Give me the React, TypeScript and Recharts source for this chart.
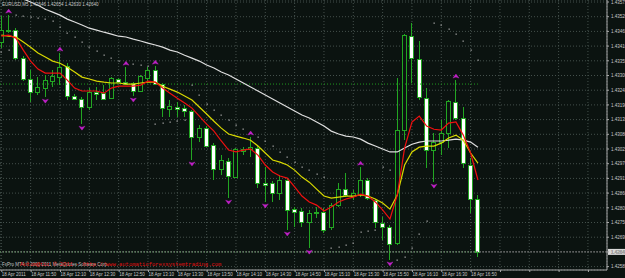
import React from 'react';
import { ComposedChart, Bar, Line, Scatter, XAxis, YAxis, CartesianGrid, ReferenceLine } from 'recharts';

const BG = '#0b1310';
const GREEN = '#22a622';
const GRID = '#44504c';
const AXIS = '#a8a8a8';
const TXT = '#c8c8c8';
const MAGENTA = '#c020c8';
const FONT = 'Liberation Sans, Arial, sans-serif';

// ---- data ----
const opens = [1.43425,1.43470,1.43470,1.43365,1.43287,1.43238,1.43253,1.43279,1.43294,1.43335,1.43223,1.43212,1.43182,1.43238,1.43234,1.43215,1.43287,1.43275,1.43272,1.43242,1.43290,1.43320,1.43268,1.43174,1.43182,1.43178,1.43167,1.43070,1.43103,1.43040,1.42950,1.42980,1.42920,1.43017,1.43025,1.43029,1.42898,1.42898,1.42860,1.42909,1.42800,1.42793,1.42752,1.42786,1.42789,1.42733,1.42815,1.42875,1.42849,1.42856,1.42909,1.42834,1.42748,1.42733,1.42673,1.43096,1.43447,1.43361,1.43215,1.43021,1.43051,1.43085,1.43200,1.43141,1.42965,1.42838];
const highs = [1.43522,1.43526,1.43477,1.43373,1.43320,1.43294,1.43302,1.43320,1.43384,1.43346,1.43230,1.43219,1.43253,1.43257,1.43264,1.43294,1.43290,1.43331,1.43275,1.43302,1.43331,1.43335,1.43272,1.43208,1.43200,1.43189,1.43171,1.43115,1.43111,1.43047,1.43002,1.42991,1.43029,1.43032,1.43070,1.43036,1.42957,1.42905,1.42928,1.42916,1.42808,1.42804,1.42797,1.42808,1.42804,1.42823,1.42898,1.42935,1.42871,1.42957,1.42916,1.42838,1.42770,1.42741,1.43290,1.43455,1.43496,1.43429,1.43253,1.43085,1.43133,1.43208,1.43283,1.43182,1.42991,1.42853];
const lows = [1.43402,1.43459,1.43358,1.43279,1.43200,1.43227,1.43219,1.43257,1.43264,1.43208,1.43208,1.43118,1.43171,1.43208,1.43208,1.43212,1.43272,1.43264,1.43223,1.43238,1.43275,1.43264,1.43144,1.43144,1.43144,1.43144,1.42984,1.43051,1.43032,1.42909,1.42928,1.42841,1.42916,1.43002,1.42995,1.42879,1.42827,1.42827,1.42834,1.42722,1.42733,1.42733,1.42654,1.42767,1.42711,1.42722,1.42808,1.42845,1.42834,1.42845,1.42834,1.42729,1.42684,1.42610,1.42666,1.43058,1.43272,1.43208,1.42954,1.42901,1.43002,1.43029,1.43133,1.42954,1.42786,1.42621];
const closes = [1.43470,1.43466,1.43365,1.43287,1.43238,1.43257,1.43283,1.43298,1.43331,1.43223,1.43212,1.43182,1.43238,1.43230,1.43212,1.43290,1.43275,1.43268,1.43242,1.43298,1.43320,1.43268,1.43178,1.43186,1.43174,1.43167,1.43070,1.43103,1.43036,1.42950,1.42984,1.42924,1.43025,1.43025,1.43032,1.42898,1.42890,1.42860,1.42909,1.42797,1.42789,1.42752,1.42786,1.42789,1.42722,1.42815,1.42875,1.42853,1.42860,1.42909,1.42841,1.42752,1.42733,1.42669,1.43096,1.43451,1.43365,1.43219,1.43021,1.43051,1.43085,1.43204,1.43141,1.42972,1.42838,1.42640];
const maRed = [1.43447,1.43451,1.43440,1.43395,1.43354,1.43324,1.43309,1.43309,1.43309,1.43283,1.43253,1.43242,1.43242,1.43242,1.43234,1.43253,1.43260,1.43260,1.43260,1.43264,1.43279,1.43275,1.43253,1.43234,1.43215,1.43197,1.43178,1.43148,1.43118,1.43092,1.43055,1.43021,1.43014,1.43021,1.43025,1.43002,1.42965,1.42939,1.42924,1.42916,1.42883,1.42849,1.42827,1.42815,1.42793,1.42808,1.42827,1.42838,1.42845,1.42856,1.42849,1.42827,1.42797,1.42763,1.42853,1.43029,1.43126,1.43148,1.43111,1.43099,1.43096,1.43122,1.43126,1.43077,1.43010,1.42909];
const maYellow = [1.43451,1.43447,1.43444,1.43425,1.43406,1.43384,1.43369,1.43354,1.43346,1.43331,1.43313,1.43294,1.43287,1.43279,1.43275,1.43272,1.43272,1.43268,1.43268,1.43272,1.43275,1.43275,1.43260,1.43249,1.43238,1.43223,1.43208,1.43182,1.43156,1.43129,1.43103,1.43081,1.43073,1.43066,1.43058,1.43036,1.43010,1.42984,1.42976,1.42965,1.42946,1.42920,1.42901,1.42875,1.42849,1.42841,1.42845,1.42849,1.42849,1.42853,1.42849,1.42838,1.42823,1.42800,1.42853,1.42965,1.43014,1.43032,1.43036,1.43036,1.43047,1.43066,1.43077,1.43058,1.43010,1.42972];
const maWhite = [1.43619,1.43608,1.43597,1.43586,1.43575,1.43563,1.43548,1.43537,1.43526,1.43511,1.43500,1.43489,1.43477,1.43470,1.43462,1.43455,1.43447,1.43444,1.43436,1.43429,1.43421,1.43414,1.43406,1.43395,1.43388,1.43376,1.43365,1.43354,1.43339,1.43328,1.43313,1.43302,1.43287,1.43272,1.43257,1.43242,1.43227,1.43212,1.43197,1.43182,1.43167,1.43152,1.43141,1.43126,1.43111,1.43092,1.43081,1.43073,1.43070,1.43062,1.43047,1.43036,1.43025,1.43014,1.43014,1.43029,1.43043,1.43051,1.43055,1.43055,1.43055,1.43058,1.43062,1.43058,1.43051,1.43032];
const sarValues = [1.43388,1.43395,1.43526,1.43522,1.43518,1.43515,1.43511,1.43503,1.43481,1.43459,1.43444,1.43425,1.43406,1.43391,1.43376,1.43365,1.43354,1.43346,1.43343,1.43339,1.43335,1.43118,1.43122,1.43126,1.43129,1.43133,1.43264,1.43227,1.43193,1.43171,1.43152,1.43133,1.43115,1.43099,1.43085,1.43070,1.43055,1.43036,1.43014,1.42995,1.42976,1.42957,1.42946,1.42931,1.42920,1.42654,1.42658,1.42666,1.42673,1.42714,1.42718,1.42722,1.42957,1.42946,1.42610,1.42621,1.42654,1.42707,1.42755,1.43496,1.43489,1.43474,1.43455,1.43429,1.43395,1.43358];
const fractalUpIdx = [1, 8, 17, 21, 34, 49, 62];
const fractalDownIdx = [6, 11, 18, 26, 31, 36, 39, 42, 53, 59];
const timeTicks = [0,4,8,12,16,20,24,28,32,36,40,44,48,52,56,60,64,68,72,76,80];
const timeLabels = ['18 Apr 2011','18 Apr 11:50','18 Apr 12:10','18 Apr 12:30','18 Apr 12:50','18 Apr 13:10','18 Apr 13:30','18 Apr 13:50','18 Apr 14:10','18 Apr 14:30','18 Apr 14:50','18 Apr 15:10','18 Apr 15:30','18 Apr 15:50','18 Apr 16:10','18 Apr 16:30','18 Apr 16:50'];
const priceTicks = [1.43575,1.43520,1.43465,1.43410,1.43355,1.43300,1.43245,1.43190,1.43135,1.43080,1.43025,1.42970,1.42915,1.42860,1.42805,1.42750,1.42695,1.42640,1.42585];
const greenLevels = [1.43268, 1.42640];
const bidPrice = 1.42640;
const titleText = 'EURUSD,M5  1.42646 1.42654 1.42630 1.42640';

const X_DOMAIN: [number, number] = [-0.18, 82.6];
const Y_DOMAIN: [number, number] = [1.425723, 1.435825];

const rows = opens.map((o, i) => ({
  i, open: o, high: highs[i], low: lows[i], close: closes[i],
  red: maRed[i], yellow: maYellow[i], white: maWhite[i], sar: sarValues[i],
}));
const fracUp = fractalUpIdx.map((i) => ({ i, v: highs[i] }));
const fracDown = fractalDownIdx.map((i) => ({ i, v: lows[i] }));

const Candle = (props: any) => {
  const { x, y, width, height, payload } = props;
  if (x == null || y == null || !payload) return null;
  const top = Math.min(y, y + height);
  const bot = Math.max(y, y + height);
  const { open, close, high, low } = payload;
  const span = high - low;
  const py = (p: number) => (span > 0 ? top + ((high - p) / span) * (bot - top) : top);
  const cx = x + width / 2;
  const L = Math.round(cx - 2.5);
  const wx = L + 2.5;
  const oy = py(open);
  const cy = py(close);
  const bTop = Math.round(Math.min(oy, cy));
  const bBot = Math.round(Math.max(oy, cy));
  const bull = close >= open;
  return (
    <g>
      <line x1={wx} x2={wx} y1={Math.round(top)} y2={Math.round(bot)} stroke={GREEN} strokeWidth={1} />
      <rect x={L + 0.5} y={bTop + 0.5} width={4} height={Math.max(bBot - bTop, 0)} fill={bull ? BG : '#ffffff'} stroke={GREEN} strokeWidth={1} />
    </g>
  );
};

const SarDot = (props: any) => {
  const { cx, cy } = props;
  if (cx == null || cy == null) return null;
  return <rect x={Math.round(cx) - 0.5} y={Math.round(cy) - 0.5} width={1.3} height={1.3} fill="#a0a0a0" />;
};

const UpArrow = (props: any) => {
  const { cx, cy } = props;
  if (cx == null || cy == null) return null;
  const t = cy - 6;
  return <path d={`M${cx},${t} L${cx + 3},${t + 4} L${cx},${t + 3} L${cx - 3},${t + 4} Z`} fill={MAGENTA} stroke={MAGENTA} strokeWidth={0.4} />;
};

const DownArrow = (props: any) => {
  const { cx, cy } = props;
  if (cx == null || cy == null) return null;
  const b = cy + 6;
  return <path d={`M${cx},${b} L${cx + 3},${b - 4} L${cx},${b - 3} L${cx - 3},${b - 4} Z`} fill={MAGENTA} stroke={MAGENTA} strokeWidth={0.4} />;
};

const XTick = (props: any) => {
  const { x, y, payload } = props;
  const idx = timeTicks.indexOf(payload.value);
  const lbl = idx >= 0 && idx < timeLabels.length ? timeLabels[idx] : '';
  return (
    <g>
      <line x1={x + 0.5} x2={x + 0.5} y1={y} y2={y + 2} stroke={AXIS} />
      {lbl ? (
        <text x={x + 0.5} y={y + 6.3} fontSize={4.5} fill={TXT} fontFamily={FONT} textAnchor="start">{lbl}</text>
      ) : null}
    </g>
  );
};

const YTick = (props: any) => {
  const { x, y, payload } = props;
  return (
    <g>
      <line x1={x} x2={x + 2} y1={y} y2={y} stroke={AXIS} />
      <text x={x + 4} y={y + 1.7} fontSize={4.5} fill={TXT} fontFamily={FONT} textAnchor="start">{Number(payload.value).toFixed(5)}</text>
    </g>
  );
};

const BidLabel = (props: any) => {
  const vb = props.viewBox || {};
  const x0 = (vb.x || 0) + (vb.width || 0);
  const y0 = vb.y || 0;
  return (
    <g>
      <rect x={x0 + 1} y={y0 - 3} width={22} height={6} fill="#d8d8d8" />
      <text x={x0 + 4} y={y0 + 1.7} fontSize={4.5} fill="#000" fontFamily={FONT}>{bidPrice.toFixed(5)}</text>
    </g>
  );
};

export default function App() {
  return (
    <div style={{ position: 'absolute', left: 0, top: 0, width: 625, height: 278, background: BG, overflow: 'hidden' }}>
      <ComposedChart width={625} height={278} data={rows} margin={{ top: 0, right: 0, bottom: 0, left: 0 }}>
        <CartesianGrid stroke={GRID} strokeDasharray="1 2" />
        <XAxis dataKey="i" type="number" domain={X_DOMAIN} ticks={timeTicks} allowDataOverflow height={8}
          tickSize={0} tickMargin={0} tick={<XTick />} axisLine={{ stroke: AXIS }} interval={0} />
        <YAxis type="number" orientation="right" domain={Y_DOMAIN} ticks={priceTicks} allowDataOverflow width={18}
          tickSize={0} tickMargin={0} tick={<YTick />} axisLine={{ stroke: AXIS }} interval={0} />
        {greenLevels.map((p) => (
          <ReferenceLine key={p} segment={[{ x: X_DOMAIN[0], y: p }, { x: 65, y: p }]} stroke="#1f9a1f" strokeDasharray="1 2" />
        ))}
        <ReferenceLine y={bidPrice} stroke="#7a7a7a" strokeDasharray="2 1" label={BidLabel} />
        <Bar dataKey={(d: any) => [d.low, d.high]} barSize={5} shape={Candle} activeBar={false} isAnimationActive={false} />
        <Line dataKey="white" stroke="#dedede" strokeWidth={1.2} dot={false} activeDot={false} isAnimationActive={false} type="linear" />
        <Line dataKey="yellow" stroke="#d8d800" strokeWidth={1.2} dot={false} activeDot={false} isAnimationActive={false} type="linear" />
        <Line dataKey="red" stroke="#f01010" strokeWidth={1.2} dot={false} activeDot={false} isAnimationActive={false} type="linear" />
        <Scatter dataKey="sar" shape={SarDot} isAnimationActive={false} />
        <Scatter data={fracUp} dataKey="v" shape={UpArrow} isAnimationActive={false} />
        <Scatter data={fracDown} dataKey="v" shape={DownArrow} isAnimationActive={false} />
      </ComposedChart>
      <svg width={625} height={278} style={{ position: 'absolute', left: 0, top: 0, pointerEvents: 'none' }}>
        <text x={2} y={5.5} fontSize={4.5} fill={TXT} fontFamily={FONT}>{titleText}</text>
        <text x={2} y={266} fontSize={4.5} fill={TXT} fontFamily={FONT}>FxPro MT4 © 2001-2011 MetaQuotes Software Corp.</text>
        <text x={20} y={266} fontSize={5.5} fill="#e01010" fontFamily="Liberation Mono, monospace">Autom@tic © 2011 - http://www.automaticforexsystemtrading.com</text>
      </svg>
    </div>
  );
}
